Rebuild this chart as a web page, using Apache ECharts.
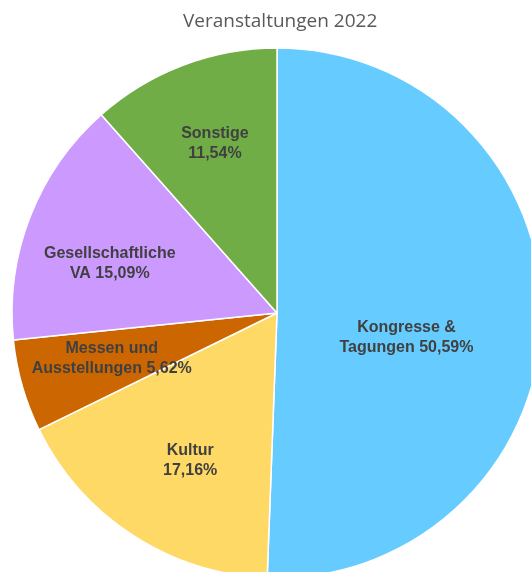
<!DOCTYPE html>
<html><head><meta charset="utf-8">
<script src="https://cdn.jsdelivr.net/npm/echarts@6/dist/echarts.min.js"></script>
<style>html,body{margin:0;padding:0;background:#fff}#c{width:531px;height:572px}</style>
</head><body><div id="c"></div>
<script>
var titleText = 'Veranstaltungen 2022';
var categories = ['Kongresse &\nTagungen', 'Kultur', 'Messen und\nAusstellungen', 'Gesellschaftliche\nVA', 'Sonstige'];
var values = [50.59, 17.16, 5.62, 15.09, 11.54];
var colors = ['#66CCFF', '#FFD966', '#CC6600', '#CC99FF', '#70AD47'];
var labelShift = [[-6, 22], [-13, 34], [-35, 8], [-41, 0], [-14, -43]];

var chart = echarts.init(document.getElementById('c'), null, {renderer: 'canvas'});
chart.setOption({
  animation: false,
  title: {
    text: titleText, left: 178, top: 7,
    textStyle: {fontFamily: 'Open Sans', fontWeight: 'normal', fontSize: 19, color: '#595959'}
  },
  series: [{
    type: 'pie',
    center: [277, 313],
    radius: 265,
    startAngle: 90,
    clockwise: true,
    avoidLabelOverlap: false,
    itemStyle: {borderColor: '#ffffff', borderWidth: 1.5},
    label: {
      show: true, position: 'inside',
      fontFamily: 'Liberation Sans', fontWeight: 'bold', fontSize: 16,
      color: '#404040', lineHeight: 20, align: 'center',
      formatter: function (p) {
        var sep = p.name.indexOf('\n') >= 0 ? ' ' : '\n';
        return p.name + sep + p.value.toFixed(2).replace('.', ',') + '%';
      }
    },
    labelLine: {show: false},
    labelLayout: function (params) {
      var s = labelShift[params.dataIndex];
      return {dx: s[0], dy: s[1]};
    },
    data: categories.map(function (n, i) {
      return {name: n, value: values[i], itemStyle: {color: colors[i]}};
    })
  }]
});
</script></body></html>
